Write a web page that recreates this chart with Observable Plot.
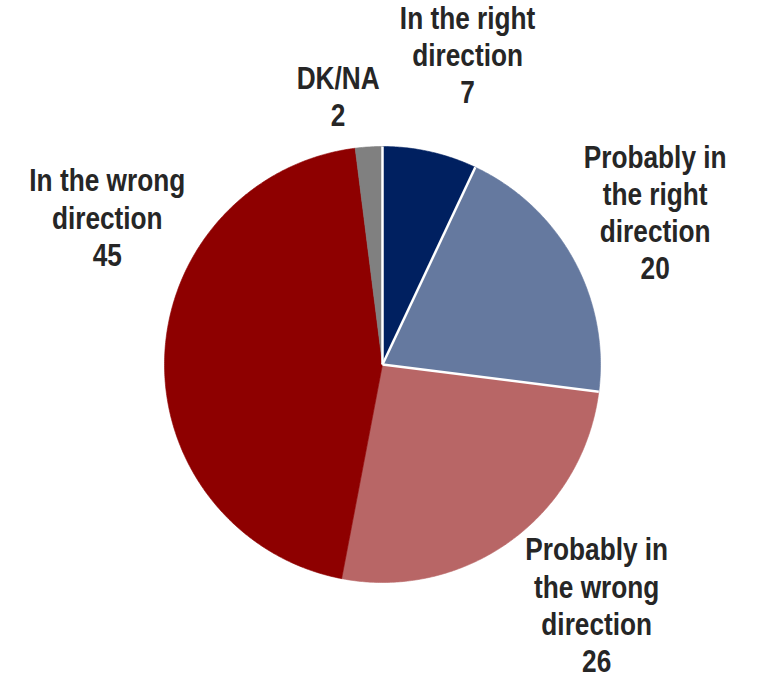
<!DOCTYPE html>
<html><head><meta charset="utf-8">
<script src="https://cdn.jsdelivr.net/npm/d3@7"></script>
<script src="https://cdn.jsdelivr.net/npm/@observablehq/plot@0.6"></script>
<style>body{margin:0;background:#fff}</style>
</head><body><div id="chart"></div>
<script>
// ---- data ----
const categories = ["In the right direction", "Probably in the right direction", "Probably in the wrong direction", "In the wrong direction", "DK/NA"];
const labelLines = [["In the right", "direction"], ["Probably in", "the right", "direction"], ["Probably in", "the wrong", "direction"], ["In the wrong", "direction"], ["DK/NA"]];
const values = [7, 20, 26, 45, 2];
// ---- style ----
const colors = ["#002060", "#65799F", "#B86666", "#8E0000", "#808080"];
const whiteEdge = [true, true, true, false, false];      // white separator at the start of each slice
const labelAngleNudge = [2.8, -0.2, -5.6, 26.2, -5.8];    // degrees from slice mid-angle
const labelRadius = [1.47, 1.43, 1.48, 1.43, 1.245];      // in pie radii
const narrow = 0.82;                                       // horizontal squeeze imitating a narrow face

const total = d3.sum(values);
const cum = d3.cumsum(values);
const starts = values.map((v, i) => (cum[i] - v) / total * 360);
const ends = cum.map(c => c / total * 360);
const rad = a => a * Math.PI / 180;

const slicePts = [];
values.forEach((v, i) => {
  slicePts.push({i, x: 0, y: 0});
  const n = Math.max(2, Math.ceil((ends[i] - starts[i]) / 0.5));
  for (let k = 0; k <= n; k++) {
    const a = rad(starts[i] + (ends[i] - starts[i]) * k / n);
    slicePts.push({i, x: Math.sin(a), y: Math.cos(a)});
  }
  slicePts.push({i, x: 0, y: 0});
});

const seps = starts.map((s, i) => ({i, a: rad(s)})).filter(d => whiteEdge[d.i]);

const labels = values.map((v, i) => {
  const a = rad((starts[i] + ends[i]) / 2 + labelAngleNudge[i]);
  return {x: labelRadius[i] * Math.sin(a), y: labelRadius[i] * Math.cos(a), text: labelLines[i].join("\n") + "\n" + v};
});

const R = 218, cx = 382, cy = 364, W = 761, H = 674;
const chart = Plot.plot({
  width: W, height: H, margin: 0,
  x: {domain: [-cx / R, (W - cx) / R], axis: null},
  y: {domain: [-(H - cy) / R, cy / R], axis: null},
  color: {type: "identity"},
  marks: [
    Plot.line(slicePts, {x: "x", y: "y", z: "i", curve: "linear", fill: d => colors[d.i], stroke: d => colors[d.i], strokeWidth: 0.6}),
    Plot.link(seps, {x1: 0, y1: 0, x2: d => Math.sin(d.a), y2: d => Math.cos(d.a), stroke: "white", strokeWidth: 2.5}),
    Plot.text(labels, {x: "x", y: "y", text: "text", fontSize: 32, fontWeight: "bold", dy: -1.5,
      fontFamily: "'Liberation Sans', Arial, sans-serif", lineHeight: 1.16,
      lineAnchor: "middle", textAnchor: "middle", fill: "#262626"})
  ]
});
d3.select(chart).selectAll("text").attr("transform", function() {
  return (this.getAttribute("transform") || "") + ` scale(${narrow},1)`;
});
document.getElementById("chart").appendChild(chart);
</script>
</body></html>
